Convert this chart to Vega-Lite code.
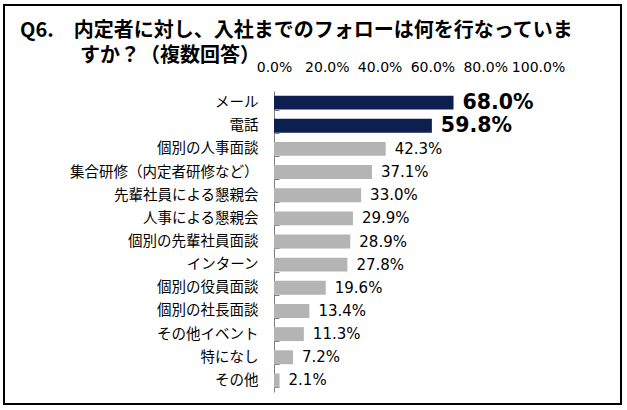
{
  "$schema": "https://vega.github.io/schema/vega-lite/v6.json",
  "width": 617,
  "height": 399,
  "autosize": {"type": "none"},
  "padding": {"left": 4, "top": 5, "right": 6, "bottom": 6},
  "background": "white",
  "config": {
    "view": {"stroke": "black", "strokeWidth": 2},
    "font": "DejaVu Sans"
  },
  "title": {
    "text": ["Q6.　内定者に対し、入社までのフォローは何を行なっていま", "\u2800\u2800\u2800\u2800すか？（複数回答）"],
    "anchor": "start",
    "frame": "group",
    "orient": "top",
    "offset": 0,
    "baseline": "top",
    "dx": 16,
    "dy": 69,
    "font": "Noto Sans CJK JP",
    "fontSize": 20,
    "fontWeight": "bold",
    "lineHeight": 25,
    "color": "black"
  },
  "data": {
    "values": [
      {"item": "メール", "value": 0.680, "top": "yes"},
      {"item": "電話", "value": 0.598, "top": "yes"},
      {"item": "個別の人事面談", "value": 0.423, "top": "no"},
      {"item": "集合研修（内定者研修など）", "value": 0.371, "top": "no"},
      {"item": "先輩社員による懇親会", "value": 0.330, "top": "no"},
      {"item": "人事による懇親会", "value": 0.299, "top": "no"},
      {"item": "個別の先輩社員面談", "value": 0.289, "top": "no"},
      {"item": "インターン", "value": 0.278, "top": "no"},
      {"item": "個別の役員面談", "value": 0.196, "top": "no"},
      {"item": "個別の社長面談", "value": 0.134, "top": "no"},
      {"item": "その他イベント", "value": 0.113, "top": "no"},
      {"item": "特になし", "value": 0.072, "top": "no"},
      {"item": "その他", "value": 0.021, "top": "no"}
    ]
  },
  "encoding": {
    "y": {
      "field": "item",
      "type": "nominal",
      "sort": null,
      "scale": {"range": [86, 387], "paddingInner": 0.4, "paddingOuter": 0.2},
      "axis": {
        "title": null,
        "orient": "left",
        "offset": -270,
        "tickBand": "extent",
        "tickSize": -5,
        "tickColor": "#7f7f7f",
        "domainColor": "#7f7f7f",
        "labelPadding": 21,
        "labelLimit": 400,
        "labelFont": "Noto Sans CJK JP",
        "labelFontSize": 14.5,
        "labelColor": "black"
      }
    },
    "x": {
      "field": "value",
      "type": "quantitative",
      "scale": {"domain": [0, 1], "range": [270, 534], "nice": false, "zero": true},
      "axis": {
        "title": null,
        "orient": "top",
        "offset": -69,
        "values": [0, 0.2, 0.4, 0.6, 0.8, 1],
        "format": ".1%",
        "domain": false,
        "ticks": false,
        "tickSize": 0,
        "grid": false,
        "labelPadding": 0,
        "labelFont": "DejaVu Sans",
        "labelFontSize": 14,
        "labelColor": "black",
        "labelFlush": false
      }
    }
  },
  "layer": [
    {
      "mark": {"type": "bar"},
      "encoding": {
        "color": {
          "field": "top",
          "type": "nominal",
          "scale": {"domain": ["yes", "no"], "range": ["#0d1e50", "#b4b4b4"]},
          "legend": null
        }
      }
    },
    {
      "transform": [{"filter": "datum.top == 'no'"}],
      "mark": {"type": "text", "align": "left", "dx": 9, "font": "DejaVu Sans", "fontSize": 15, "color": "black"},
      "encoding": {"text": {"field": "value", "type": "quantitative", "format": ".1%"}}
    },
    {
      "transform": [{"filter": "datum.top == 'yes'"}],
      "mark": {"type": "text", "align": "left", "dx": 9, "font": "DejaVu Sans", "fontSize": 20.5, "fontWeight": "bold", "color": "black"},
      "encoding": {"text": {"field": "value", "type": "quantitative", "format": ".1%"}}
    }
  ]
}
